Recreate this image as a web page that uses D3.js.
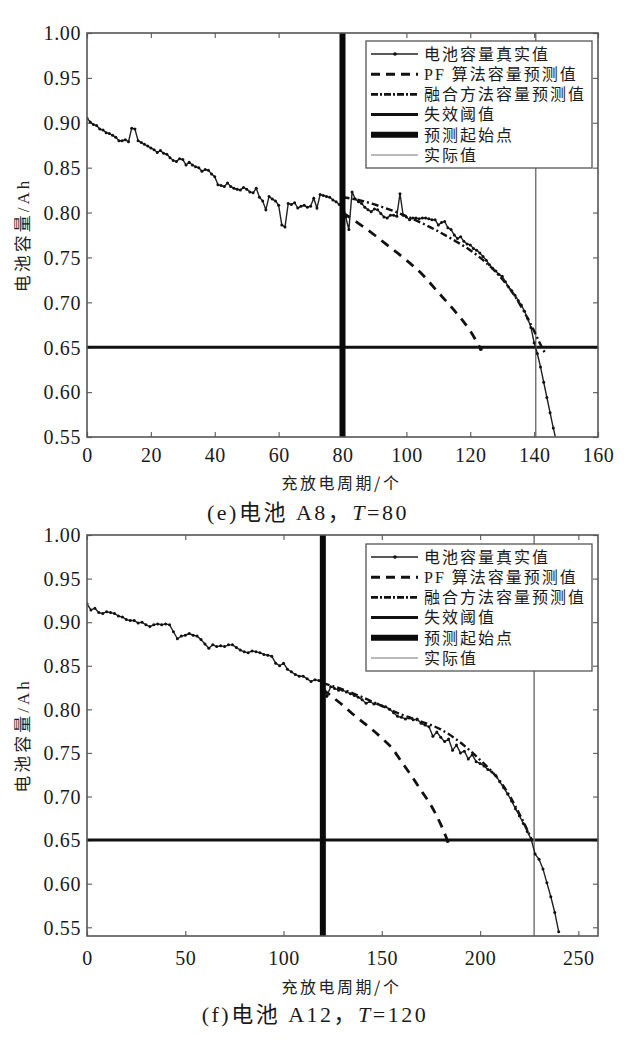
<!DOCTYPE html>
<html><head><meta charset="utf-8">
<script src="https://cdn.jsdelivr.net/npm/d3@7"></script>
<style>body{margin:0;background:#fff} svg{display:block}</style>
</head><body>
<svg id="c" width="640" height="1053"></svg>
<script>
// ---------- shared ----------
const yTicks = [0.55, 0.60, 0.65, 0.70, 0.75, 0.80, 0.85, 0.90, 0.95, 1.00];
const legendLabels = ["电池容量真实值", "PF 算法容量预测值", "融合方法容量预测值", "失效阈值", "预测起始点", "实际值"];
const threshold = 0.65;
const yAxisTitle = "电池容量/Ah";
const xAxisTitle = "充放电周期/个";

// ---------- panel (e): battery A8, T=80 ----------
const a8XTicks = [0, 20, 40, 60, 80, 100, 120, 140, 160];
// measured capacity, one value per cycle starting at cycle 0
const a8True = [
 0.905,0.901,0.898,0.897,0.893,0.892,0.889,0.888,0.886,0.884,
 0.880,0.880,0.881,0.879,0.894,0.893,0.880,0.878,0.876,0.874,
 0.872,0.870,0.867,0.869,0.866,0.865,0.861,0.858,0.857,0.860,
 0.859,0.853,0.856,0.853,0.851,0.850,0.846,0.848,0.847,0.843,
 0.840,0.831,0.830,0.829,0.833,0.829,0.827,0.826,0.825,0.828,
 0.826,0.823,0.822,0.827,0.817,0.813,0.803,0.818,0.815,0.813,
 0.808,0.786,0.784,0.810,0.809,0.811,0.805,0.807,0.808,0.806,
 0.807,0.816,0.805,0.820,0.819,0.818,0.817,0.814,0.812,0.809,
 0.812,0.795,0.781,0.823,0.815,0.812,0.810,0.806,0.803,0.801,
 0.804,0.803,0.799,0.795,0.794,0.797,0.797,0.796,0.821,0.797,
 0.795,0.792,0.794,0.794,0.793,0.794,0.794,0.793,0.792,0.792,
 0.786,0.789,0.790,0.783,0.781,0.775,0.771,0.773,0.768,0.765,
 0.764,0.760,0.758,0.755,0.751,0.747,0.742,0.738,0.735,0.731,
 0.729,0.723,0.717,0.713,0.708,0.702,0.697,0.690,0.682,0.672,
 0.655,0.643,0.628,0.611,0.594,0.577,0.560,0.545
];
const a8PfCycles = [80, 85, 90, 95, 100, 105, 110, 115, 120, 123.3];
const a8PfValues = [0.800, 0.788, 0.775, 0.761, 0.747, 0.731, 0.711, 0.691, 0.668, 0.648];
const a8FusionCycles = [80, 85, 90, 95, 100, 105, 110, 115, 120, 125, 130, 133, 136, 138, 140, 142, 143.5];
const a8FusionValues = [0.817, 0.814, 0.809, 0.803, 0.796, 0.788, 0.779, 0.769, 0.758, 0.744, 0.726, 0.712, 0.695, 0.682, 0.668, 0.653, 0.643];
const a8Start = 80;
const a8Actual = 140.5;

// ---------- panel (f): battery A12, T=120 ----------
const a12XTicks = [0, 50, 100, 150, 200, 250];
// measured capacity, read every 2nd cycle starting at cycle 0
const a12TrueStep = 2;
const a12True = [
 0.921,0.914,0.916,0.911,0.910,0.912,0.911,0.910,0.907,0.906,
 0.903,0.902,0.902,0.899,0.900,0.897,0.895,0.897,0.898,0.897,
 0.898,0.897,0.889,0.881,0.884,0.885,0.887,0.885,0.884,0.880,
 0.875,0.870,0.874,0.872,0.873,0.872,0.874,0.874,0.871,0.868,
 0.866,0.865,0.867,0.866,0.865,0.863,0.862,0.861,0.853,0.850,
 0.853,0.846,0.843,0.840,0.838,0.838,0.835,0.832,0.834,0.833,
 0.829,0.815,0.826,0.824,0.822,0.822,0.820,0.818,0.816,0.814,
 0.811,0.807,0.809,0.806,0.806,0.804,0.803,0.800,0.796,0.792,
 0.791,0.789,0.790,0.788,0.789,0.784,0.782,0.780,0.769,0.774,
 0.768,0.763,0.766,0.753,0.759,0.750,0.752,0.743,0.748,0.740,
 0.738,0.735,0.731,0.728,0.724,0.717,0.710,0.703,0.695,0.686,
 0.678,0.669,0.660,0.651,0.634,0.628,0.617,0.601,0.585,0.567,
 0.545
];
const a12PfCycles = [120, 125, 130, 135, 140, 145, 150, 155, 160, 165, 170, 175, 180, 183.5];
const a12PfValues = [0.823, 0.814, 0.805, 0.795, 0.786, 0.777, 0.767, 0.756, 0.740, 0.724, 0.707, 0.690, 0.668, 0.649];
const a12FusionCycles = [120, 130, 140, 150, 160, 170, 180, 190, 200, 205, 210, 215, 220, 224, 226.5];
const a12FusionValues = [0.830, 0.823, 0.814, 0.804, 0.794, 0.786, 0.777, 0.762, 0.742, 0.731, 0.718, 0.701, 0.680, 0.662, 0.649];
const a12Start = 120;
const a12Actual = 227.5;

// ---------- drawing ----------
const svg = d3.select("#c");
const LATIN = "'Liberation Serif', 'Times New Roman', serif";
const MIXED = "'Liberation Serif', 'Noto Sans CJK SC', serif";
const CJK = "'Noto Sans CJK SC', sans-serif";

function drawPanel(p, idx) {
  const x = d3.scaleLinear().domain(p.xDomain).range([p.left, p.right]);
  const y = d3.scaleLinear().domain(p.yDomain).range([p.bottom, p.top]);
  const g = svg.append("g");
  const clipId = "clip" + idx;
  svg.append("clipPath").attr("id", clipId).append("rect")
    .attr("x", p.left).attr("y", p.top).attr("width", p.right - p.left).attr("height", p.bottom - p.top);

  const tick = 5;
  const axB = d3.axisBottom(x).tickValues(p.xTicks).tickSizeInner(-tick).tickSizeOuter(0).tickFormat(d3.format("d"));
  const axT = d3.axisTop(x).tickValues(p.xTicks).tickSizeInner(-tick).tickSizeOuter(0).tickFormat("");
  const axL = d3.axisLeft(y).tickValues(yTicks).tickSizeInner(-tick).tickSizeOuter(0).tickFormat(d3.format(".2f"));
  const axR = d3.axisRight(y).tickValues(yTicks).tickSizeInner(-tick).tickSizeOuter(0).tickFormat("");

  const gb = g.append("g").attr("transform", `translate(0,${p.bottom})`).call(axB);
  const gt = g.append("g").attr("transform", `translate(0,${p.top})`).call(axT);
  const gl = g.append("g").attr("transform", `translate(${p.left},0)`).call(axL);
  const gr = g.append("g").attr("transform", `translate(${p.right},0)`).call(axR);
  [gb, gt, gl, gr].forEach(a => {
    a.select(".domain").remove();
    a.selectAll(".tick line").attr("stroke", "#666").attr("stroke-width", 1.2);
  });
  gb.selectAll(".tick text").attr("font-family", LATIN).attr("font-size", 20).attr("fill", "#1a1a1a")
    .attr("y", 0).attr("dy", 0).attr("transform", `translate(0,${p.xLabelBase - p.bottom})`)
    .style("letter-spacing", "0.5px");
  gl.selectAll(".tick text").attr("font-family", LATIN).attr("font-size", 20).attr("fill", "#1a1a1a")
    .attr("x", -6).attr("dy", "0.34em").style("letter-spacing", "0.6px");

  // threshold line
  g.append("line").attr("x1", p.left).attr("x2", p.right)
    .attr("y1", y(threshold)).attr("y2", y(threshold))
    .attr("stroke", "#111").attr("stroke-width", 3);
  // actual-value vertical line
  g.append("line").attr("x1", x(p.actual)).attr("x2", x(p.actual))
    .attr("y1", p.top).attr("y2", p.bottom).attr("stroke", "#777").attr("stroke-width", 1.5);

  const data = g.append("g").attr("clip-path", `url(#${clipId})`);
  const line = d3.line().x(d => x(d[0])).y(d => y(d[1]));

  const trueData = p.trueValues.map((v, i) => [i * p.trueStep, v]);
  const pf = p.pfCycles.map((c, i) => [c, p.pfValues[i]]);
  const fu = p.fusionCycles.map((c, i) => [c, p.fusionValues[i]]);

  data.append("path").datum(pf).attr("d", line.curve(d3.curveMonotoneX))
    .attr("fill", "none").attr("stroke", "#111").attr("stroke-width", 2.8)
    .attr("stroke-dasharray", "9,7");
  data.append("circle").attr("cx", x(pf[pf.length - 1][0])).attr("cy", y(pf[pf.length - 1][1]))
    .attr("r", 2).attr("fill", "#111");
  data.append("path").datum(fu).attr("d", line.curve(d3.curveMonotoneX))
    .attr("fill", "none").attr("stroke", "#111").attr("stroke-width", 2.4)
    .attr("stroke-dasharray", "7,3,2,3");
  data.append("path").datum(trueData).attr("d", d3.line().x(d => x(d[0])).y(d => y(d[1])))
    .attr("fill", "none").attr("stroke", "#222").attr("stroke-width", 1.4);
  data.selectAll(".mk").data(trueData).enter().append("circle")
    .attr("cx", d => x(d[0])).attr("cy", d => y(d[1])).attr("r", 1.5).attr("fill", "#111");

  // prediction start line
  g.append("line").attr("x1", x(p.start)).attr("x2", x(p.start))
    .attr("y1", p.top).attr("y2", p.bottom).attr("stroke", "#0a0a0a").attr("stroke-width", 6);

  // frame
  g.append("rect").attr("x", p.left).attr("y", p.top)
    .attr("width", p.right - p.left).attr("height", p.bottom - p.top)
    .attr("fill", "none").attr("stroke", "#555").attr("stroke-width", 1.6);

  // legend
  const lg = g.append("g");
  lg.append("rect").attr("x", p.legX).attr("y", p.legY).attr("width", 226).attr("height", 127)
    .attr("fill", "#fff").attr("stroke", "#555").attr("stroke-width", 1.3);
  const styles = [
    { w: 1.3, dash: null, c: "#222", dot: true },
    { w: 3, dash: "9,6", c: "#111" },
    { w: 2.8, dash: "7,2,2,2", c: "#111" },
    { w: 3, dash: null, c: "#111" },
    { w: 6, dash: null, c: "#0a0a0a" },
    { w: 1.2, dash: null, c: "#777" }
  ];
  legendLabels.forEach((lab, i) => {
    const cy = p.legY + 13 + i * 20.2;
    const s = styles[i];
    const ln = lg.append("line").attr("x1", p.legX + 5).attr("x2", p.legX + 52)
      .attr("y1", cy).attr("y2", cy).attr("stroke", s.c).attr("stroke-width", s.w);
    if (s.dash) ln.attr("stroke-dasharray", s.dash);
    if (s.dot) lg.append("circle").attr("cx", p.legX + 29).attr("cy", cy).attr("r", 1.8).attr("fill", "#111");
    lg.append("text").attr("x", p.legX + 58).attr("y", cy).attr("dy", "0.36em")
      .attr("font-family", MIXED).attr("font-size", 16).attr("fill", "#1a1a1a")
      .style("letter-spacing", "2px").text(lab);
  });

  // axis titles
  g.append("text").attr("x", (p.left + p.right) / 2 - 1).attr("y", p.xTitleBase)
    .attr("text-anchor", "middle").attr("font-family", CJK).attr("font-size", 16)
    .attr("fill", "#222").style("letter-spacing", "2.5px").text(xAxisTitle);
  g.append("text").attr("transform", `translate(23,${(p.top + p.bottom) / 2}) rotate(-90)`)
    .attr("text-anchor", "middle").attr("dy", "0.35em").attr("font-family", MIXED).attr("font-size", 17)
    .attr("fill", "#222").style("letter-spacing", "3px").text(yAxisTitle);

  // caption
  const cap = g.append("text").attr("x", p.capX).attr("y", p.capBase).attr("text-anchor", "middle")
    .attr("font-family", MIXED).attr("font-size", 22).attr("fill", "#1a1a1a").style("letter-spacing", "2.5px");
  cap.append("tspan").text(p.capA);
  cap.append("tspan").attr("font-style", "italic").text("T");
  cap.append("tspan").text(p.capB);
}

drawPanel({
  left: 87, right: 598, top: 33, bottom: 437,
  xDomain: [0, 160], yDomain: [0.55, 1.0], xTicks: a8XTicks,
  trueValues: a8True, trueStep: 1,
  pfCycles: a8PfCycles, pfValues: a8PfValues,
  fusionCycles: a8FusionCycles, fusionValues: a8FusionValues,
  start: a8Start, actual: a8Actual,
  legX: 366, legY: 41,
  xLabelBase: 462, xTitleBase: 489, capBase: 520, capX: 308,
  capA: "(e)电池 A8，", capB: "=80"
}, 0);

drawPanel({
  left: 87, right: 598, top: 535, bottom: 936,
  xDomain: [0, 260], yDomain: [0.54, 1.0], xTicks: a12XTicks,
  trueValues: a12True, trueStep: a12TrueStep,
  pfCycles: a12PfCycles, pfValues: a12PfValues,
  fusionCycles: a12FusionCycles, fusionValues: a12FusionValues,
  start: a12Start, actual: a12Actual,
  legX: 366, legY: 544,
  xLabelBase: 965, xTitleBase: 993, capBase: 1022, capX: 315,
  capA: "(f)电池 A12，", capB: "=120"
}, 1);
</script>
</body></html>
